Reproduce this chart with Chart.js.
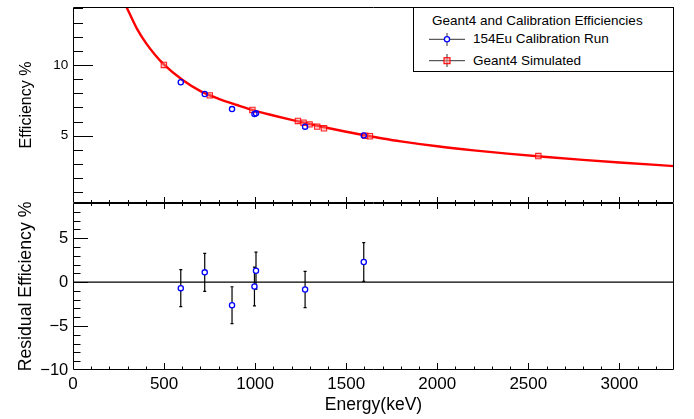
<!DOCTYPE html>
<html>
<head>
<meta charset="utf-8">
<script src="https://cdn.jsdelivr.net/npm/chart.js@4.4.1/dist/chart.umd.min.js"></script>
<style>
  html, body { margin: 0; padding: 0; background: #fff; }
  #wrap { position: relative; width: 694px; height: 419px; overflow: hidden; background: #fff; }
  canvas { position: absolute; left: 0; top: 0; }
  #legend { position: absolute; left: 413px; top: 7px; width: 261px; height: 65px; box-sizing: border-box;
            border: 1px solid #000; background: #fff; font-family: 'Liberation Sans', Arial, sans-serif; font-size: 13.5px; color: #000; }
  #legend span { position: absolute; line-height: 16px; white-space: nowrap; }
  #legend svg { position: absolute; left: 0; top: 0; }
</style>
</head>
<body>
<div id="wrap">
  <canvas id="top" width="694" height="419"></canvas>
  <canvas id="bot" width="694" height="419"></canvas>
  <div id="legend">
    <svg width="259" height="63">
      <line x1="15" y1="31.3" x2="51" y2="31.3" stroke="#333" stroke-width="1"/>
      <line x1="33" y1="25" x2="33" y2="38" stroke="#333" stroke-width="1"/>
      <circle cx="33" cy="31.3" r="2.6" fill="#fff" stroke="#0000ff" stroke-width="1.3"/>
      <line x1="15" y1="52.7" x2="51" y2="52.7" stroke="#333" stroke-width="1"/>
      <line x1="33" y1="46" x2="33" y2="59" stroke="#333" stroke-width="1"/>
      <rect x="30" y="49.7" width="6" height="6" fill="rgba(255,150,150,0.6)" stroke="#ff0000" stroke-width="1.1"/>
    </svg>
    <span style="left:18px;top:4.7px">Geant4 and Calibration Efficiencies</span>
    <span style="left:59px;top:23.3px">154Eu Calibration Run</span>
    <span style="left:59px;top:44.7px">Geant4 Simulated</span>
  </div>
</div>
<script>
// ---------------- data ----------------
const CAL_E   = [591.8, 723.3, 873.2, 996.3, 1004.8, 1274.4, 1596.5];
const CAL_EFF = [8.78, 7.95, 6.88, 6.53, 6.58, 5.64, 5.02];
const RESID     = [-0.69, 1.11, -2.63, -0.50, 1.30, -0.84, 2.29];
const RESID_ERR = [2.10, 2.17, 2.10, 2.20, 2.10, 2.07, 2.20];

const SIM_E   = [499, 751, 985, 1235, 1266, 1299, 1341, 1378, 1605, 1630, 2555];
const SIM_EFF = [10.0, 7.85, 6.82, 6.04, 5.92, 5.80, 5.64, 5.52, 5.00, 4.96, 3.56];

const FIT_E   = [290, 350, 400, 450, 500, 600, 700, 800, 900, 1000, 1100, 1200, 1300, 1400, 1500, 1600, 1700, 1800, 2000, 2200, 2400, 2600, 2800, 3000, 3300];
const FIT_EFF = [14.2, 12.59, 11.56, 10.72, 10.02, 8.95, 8.15, 7.61, 7.17, 6.76, 6.43, 6.12, 5.825, 5.545, 5.28, 5.03, 4.805, 4.60, 4.25, 3.96, 3.71, 3.49, 3.29, 3.106, 2.85];

const X_TICKS     = [0, 500, 1000, 1500, 2000, 2500, 3000];
const TOP_Y_TICKS = [5, 10];
const BOT_Y_TICKS = [-10, -5, 0, 5];
const ZERO_LINE   = 0;

const X_RANGE     = [0, 3300];
const TOP_Y_RANGE = [0.24, 14.1];
const BOT_Y_RANGE = [-10, 9];

const FONT = "'Liberation Sans', Arial, sans-serif";
const zip = (xs, ys) => xs.map((x, i) => ({ x, y: ys[i] }));
const fmt = v => String(v).replace('-', '\u2212');
const noPadY = w => s => { s.width = w; s.paddingTop = 0; s.paddingBottom = 0; };
const noPadX = h => s => { s.height = h; s.paddingLeft = 0; s.paddingRight = 0; };

// ---------------- ROOT-like frame / ticks plugin ----------------
const rootFrame = {
  id: 'rootFrame',
  beforeDatasetsDraw(chart, args, o) {
    const { ctx, chartArea: a, scales: { x, y } } = chart;
    ctx.save();
    ctx.strokeStyle = '#000';
    ctx.lineWidth = 1.2;
    if (o.zero !== undefined) {
      const py = y.getPixelForValue(o.zero);
      ctx.beginPath(); ctx.moveTo(a.left, py); ctx.lineTo(a.right, py); ctx.stroke();
    }
    if (o.errors) {
      const ds = chart.data.datasets[0].data;
      ds.forEach((p, i) => {
        const px = x.getPixelForValue(p.x);
        const y1 = y.getPixelForValue(p.y + o.errors[i]);
        const y2 = y.getPixelForValue(p.y - o.errors[i]);
        ctx.beginPath();
        ctx.moveTo(px, y1); ctx.lineTo(px, y2);
        ctx.moveTo(px - 1.5, y1); ctx.lineTo(px + 1.5, y1);
        ctx.moveTo(px - 1.5, y2); ctx.lineTo(px + 1.5, y2);
        ctx.stroke();
      });
    }
    ctx.restore();
  },
  afterDraw(chart, args, o) {
    const { ctx, chartArea: a, scales: { x, y } } = chart;
    ctx.save();
    ctx.strokeStyle = '#000';
    ctx.lineWidth = 1;
    ctx.beginPath();
    ctx.rect(a.left + 0.5, a.top + 0.5, a.right - a.left - 1, a.bottom - a.top - 1);
    ctx.stroke();
    ctx.beginPath();
    for (let v = Math.ceil(y.min); v < y.max - 0.01; v++) {
      if (v <= y.min + 0.01) continue;
      const py = Math.round(y.getPixelForValue(v)) + 0.5;
      const len = (v % 5 === 0) ? o.yMajor : o.yMinor;
      ctx.moveTo(a.left, py); ctx.lineTo(a.left + len, py);
    }
    for (let v = 100; v < x.max; v += 100) {
      const px = Math.round(x.getPixelForValue(v)) + 0.5;
      const major = v % 500 === 0;
      const up = major ? o.xMajor : o.xMinor;
      const down = o.both ? up : 0;
      ctx.moveTo(px, a.bottom - up); ctx.lineTo(px, a.bottom + down);
    }
    ctx.stroke();
    ctx.restore();
  }
};

// ---------------- top panel ----------------
new Chart(document.getElementById('top'), {
  type: 'scatter',
  data: {
    datasets: [
      { label: '154Eu Calibration Run', data: zip(CAL_E, CAL_EFF), showLine: false,
        pointStyle: 'circle', pointRadius: 2.6, borderWidth: 1.3,
        borderColor: '#0000ff', backgroundColor: 'rgba(0,0,0,0)', order: 1 },
      { label: 'Geant4 Simulated', data: zip(SIM_E, SIM_EFF), showLine: false,
        pointStyle: 'rect', pointRadius: 3.8, borderWidth: 1.1,
        borderColor: 'rgba(255,0,0,0.85)', backgroundColor: 'rgba(255,140,140,0.45)', order: 2 },
      { label: 'fit', data: zip(FIT_E, FIT_EFF), showLine: true, pointRadius: 0,
        borderColor: '#ff0000', borderWidth: 2.4, cubicInterpolationMode: 'monotone', order: 3 }
    ]
  },
  options: {
    responsive: false, animation: false, events: [],
    layout: { padding: { left: 0, right: 20, top: 7, bottom: 216 } },
    plugins: { legend: { display: false }, tooltip: { enabled: false },
      rootFrame: { yMajor: 20, yMinor: 10, xMajor: 6, xMinor: 3, both: true } },
    scales: {
      x: { type: 'linear', min: X_RANGE[0], max: X_RANGE[1], display: false },
      y: { type: 'linear', min: TOP_Y_RANGE[0], max: TOP_Y_RANGE[1],
        afterFit: noPadY(73),
        afterBuildTicks: s => { s.ticks = TOP_Y_TICKS.map(v => ({ value: v })); },
        grid: { display: false, drawTicks: false }, border: { display: false },
        ticks: { padding: 4.7, color: '#000', font: { family: FONT, size: 13.5 }, callback: v => fmt(v) },
        title: { display: true, text: 'Efficiency %', color: '#000', font: { family: FONT, size: 16 }, padding: { top: 17, bottom: 0 } }
      }
    }
  },
  plugins: [rootFrame]
});

// ---------------- bottom panel ----------------
new Chart(document.getElementById('bot'), {
  type: 'scatter',
  data: {
    datasets: [
      { label: 'residual', data: zip(CAL_E, RESID), showLine: false,
        pointStyle: 'circle', pointRadius: 2.6, borderWidth: 1.3,
        borderColor: '#0000ff', backgroundColor: '#ffffff' }
    ]
  },
  options: {
    responsive: false, animation: false, events: [],
    layout: { padding: { left: 0, right: 20, top: 203, bottom: 0 } },
    plugins: { legend: { display: false }, tooltip: { enabled: false },
      rootFrame: { yMajor: 15, yMinor: 7.5, xMajor: 7, xMinor: 3.5, both: false, zero: ZERO_LINE, errors: RESID_ERR } },
    scales: {
      x: { type: 'linear', min: X_RANGE[0], max: X_RANGE[1],
        afterFit: noPadX(49),
        afterBuildTicks: s => { s.ticks = X_TICKS.map(v => ({ value: v })); },
        grid: { display: false, drawTicks: false }, border: { display: false },
        ticks: { padding: 4.3, color: '#000', maxRotation: 0, autoSkip: false, font: { family: FONT, size: 17 }, callback: v => fmt(v) },
        title: { display: true, text: 'Energy(keV)', color: '#000', font: { family: FONT, size: 17.5 }, padding: { top: 0, bottom: 3.5 } }
      },
      y: { type: 'linear', min: BOT_Y_RANGE[0], max: BOT_Y_RANGE[1],
        afterFit: noPadY(73),
        afterBuildTicks: s => { s.ticks = BOT_Y_TICKS.map(v => ({ value: v })); },
        grid: { display: false, drawTicks: false }, border: { display: false },
        ticks: { padding: 4.7, color: '#000', autoSkip: false, font: { family: FONT, size: 16.5 }, callback: v => fmt(v) },
        title: { display: true, text: 'Residual Efficiency %', color: '#000', font: { family: FONT, size: 17.7 }, padding: { top: 15.4, bottom: 0 } }
      }
    }
  },
  plugins: [rootFrame]
});
</script>
</body>
</html>
